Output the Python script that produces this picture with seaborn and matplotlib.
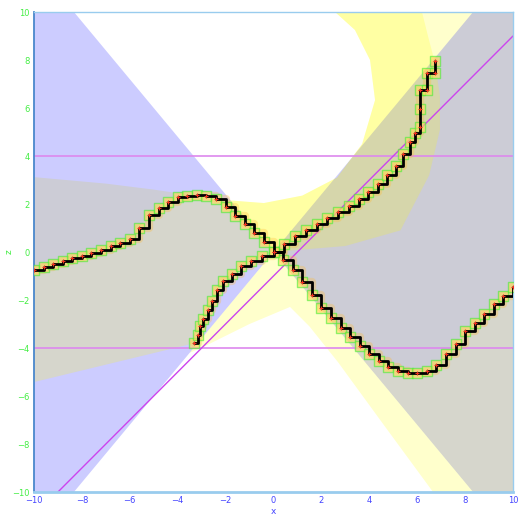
import matplotlib
matplotlib.use("Agg")
import matplotlib.pyplot as plt
import seaborn as sns
import pandas as pd

# ---- curve branches (x, z) ----
d_x = [-10.0, -9.6, -9.2, -8.8, -8.4, -8.0, -7.6, -7.2, -6.8, -6.4, -6.0, -5.6, -5.2,
       -4.8, -4.4, -4.0, -3.6, -3.2, -2.8, -2.4, -2.0, -1.6, -1.2, -0.8, -0.4, 0.0,
       0.4, 0.8, 1.2, 1.6, 2.0, 2.4, 2.8, 3.2, 3.6, 4.0, 4.4, 4.8, 5.2, 5.6, 6.0,
       6.4, 6.8, 7.2, 7.6, 8.0, 8.4, 8.8, 9.2, 9.6, 10.0]
d_z = [-0.75, -0.62, -0.50, -0.36, -0.25, -0.15, -0.05, 0.10, 0.25, 0.37, 0.55, 1.00, 1.55,
       1.85, 2.10, 2.28, 2.35, 2.38, 2.33, 2.20, 1.87, 1.50, 1.15, 0.80, 0.42, 0.00,
       -0.32, -0.75, -1.27, -1.78, -2.32, -2.75, -3.15, -3.55, -3.92, -4.25, -4.55, -4.80, -4.97, -5.05, -5.05,
       -4.95, -4.70, -4.25, -3.85, -3.30, -2.95, -2.60, -2.15, -1.85, -1.45]

u_x = [-3.30, -3.15, -3.05, -2.95, -2.75, -2.55, -2.35, -2.10, -1.75, -1.35, -0.95, -0.50, 0.00,
       0.45, 0.90, 1.35, 1.80, 2.25, 2.70, 3.15, 3.55, 3.95, 4.35, 4.75, 5.10, 5.40, 5.70,
       5.90, 6.12, 6.12, 6.12, 6.40, 6.40, 6.74, 6.74]
u_z = [-3.80, -3.45, -3.10, -2.80, -2.40, -2.05, -1.60, -1.20, -0.90, -0.60, -0.38, -0.17, 0.00,
       0.35, 0.65, 0.90, 1.15, 1.40, 1.65, 1.90, 2.20, 2.50, 2.85, 3.20, 3.60, 4.10, 4.60,
       4.95, 5.20, 5.95, 6.75, 6.75, 7.45, 7.45, 7.97]

# ---- shaded regions ----
wedge_slope = 1.2                      # blue double wedge |z| <= 1.2 |x|
upper_x = [-10, -7, -5, -3.5, -2.1, -0.4, 1.2, 2.65, 3.7, 4.24, 4.03, 3.4, 2.57]
upper_z = [3.12, 2.85, 2.6, 2.38, 2.17, 2.04, 2.35, 3.1, 4.5, 6.33, 8.0, 9.25, 10]
lowleft_x = [-3.3, -10]
lowleft_z = [-3.8, -5.42]
outer_x = [6.2, 6.45, 6.74, 6.95, 6.95, 6.5, 5.3, 3.0, 0.0]
outer_z = [10, 9.0, 7.9, 6.5, 5.1, 3.2, 0.9, 0.25, 0.0]
lower_x = [-3.5, -2.94, -1.0, 0.69, 1.5, 2.7, 4.6, 6.66]
lower_z = [-4.2, -3.96, -3.0, -2.29, -3.1, -4.6, -7.2, -10]

# reference lines
level_lines = [4, -4]
diag_x = [-9, 10]
diag_z = [-10, 9]

ticks = list(range(-10, 11, 2))

fig = plt.figure(figsize=(5.18, 5.16), dpi=100)
sns.set_style("white")
ax = fig.add_axes([34 / 518, 1 - 492 / 516, 479 / 518, 480 / 516])
ax.set_xlim(-10, 10)
ax.set_ylim(-10, 10)

YEL = dict(color="#ffff00", alpha=0.2, lw=0)
BLU = dict(color="#0000ff", alpha=0.2, lw=0)

# yellow band above the curve (drawn under the wedge)
above_x = d_x + [10, 10] + upper_x[::-1]
above_z = d_z + [10, 10] + upper_z[::-1]
ax.fill(above_x, above_z, zorder=1, **YEL)

# blue wedge
ax.fill([-10, 0, -10], [10 * wedge_slope, 0, -10 * wedge_slope], zorder=1.1, **BLU)
ax.fill([10, 0, 10], [10 * wedge_slope, 0, -10 * wedge_slope], zorder=1.1, **BLU)

# yellow band below the curve (drawn over the wedge)
i0 = u_x.index(0.0)
below_x = d_x + [10, 10 / wedge_slope, 0] + u_x[i0::-1] + lowleft_x[1:]
below_z = d_z + [-10, -10, 0] + u_z[i0::-1] + lowleft_z[1:]
ax.fill(below_x, below_z, zorder=1.2, **YEL)

# second yellow band: upper lobe and lower lobe
j0 = d_x.index(0.0)
j1 = d_x.index(-2.4)
lobe_x = d_x[j0:j1 - 1:-1] + upper_x[4:] + outer_x
lobe_z = d_z[j0:j1 - 1:-1] + upper_z[4:] + outer_z
ax.fill(lobe_x, lobe_z, zorder=1.3, **YEL)
low_x = [0] + lower_x + [10 / wedge_slope]
low_z = [0] + lower_z + [-10]
ax.fill(low_x, low_z, zorder=1.3, **YEL)

# reference lines
for lv in level_lines:
    ax.axhline(lv, color="#dd88ee", lw=1.2, zorder=2)
sns.lineplot(x=diag_x, y=diag_z, ax=ax, color="#cc44ee", lw=1.0, zorder=2)

# curve branches
for bx, bz in ((d_x, d_z), (u_x, u_z)):
    df = pd.DataFrame({"x": bx, "z": bz})
    sns.lineplot(data=df, x="x", y="z", sort=False, estimator=None, ax=ax,
                 color="#ffbb33", alpha=0.3, lw=6, drawstyle="steps-post", zorder=3)
    sns.scatterplot(data=df, x="x", y="z", ax=ax, marker="s", s=42,
                    facecolor="#ffdd66", edgecolor="#44ee33", linewidth=1.0,
                    alpha=0.6, zorder=4)
    sns.lineplot(data=df, x="x", y="z", sort=False, estimator=None, ax=ax,
                 color="black", lw=2.0, drawstyle="steps-post", zorder=5)
    sns.scatterplot(data=df, x="x", y="z", ax=ax, marker="+", s=12,
                    color="#ee3322", linewidth=0.8, zorder=6)

# axes styling
ax.set_xticks(ticks)
ax.set_yticks(ticks)
ax.tick_params(axis="x", direction="in", length=4, width=1, colors="#9999ff",
               labelcolor="#4444ff", labelsize=6, pad=3)
ax.tick_params(axis="y", direction="in", length=4, width=1, colors="#99ccaa",
               labelcolor="#44ee44", labelsize=6, pad=3)
ax.set_xlabel("x", color="#4444ff", fontsize=6.5)
ax.set_ylabel("z", color="#44ee44", fontsize=6.5)
ax.xaxis.set_label_coords(0.5, -0.031)
ax.yaxis.set_label_coords(-0.042, 0.5)
ax.spines["left"].set_color("#4a88cc")
ax.spines["left"].set_linewidth(1.3)
ax.spines["bottom"].set_color("#99ccee")
ax.spines["bottom"].set_linewidth(2.0)
for side in ("top", "right"):
    ax.spines[side].set_color("#99ccee")
    ax.spines[side].set_linewidth(1.0)

fig.savefig("out.png", dpi=100)
